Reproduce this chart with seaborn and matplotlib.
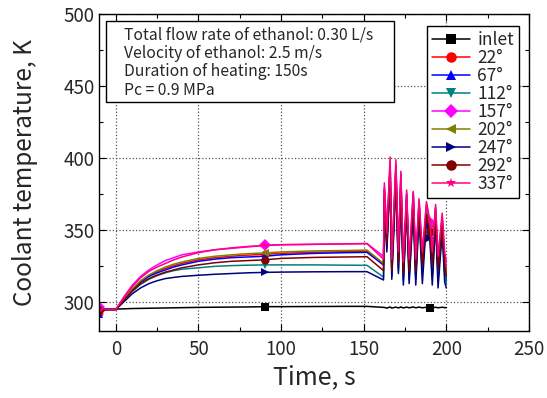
import pandas as pd
import matplotlib
matplotlib.use("Agg")
import matplotlib.pyplot as plt
import seaborn as sns
from matplotlib.patches import Rectangle
from matplotlib.ticker import MultipleLocator

sns.set_theme(style="ticks")
plt.rcParams['font.family'] = ['Noto Sans CJK JP', 'DejaVu Sans']

# --- data ---
time = [-10, -9, -8, -6, 0, 5, 10, 15, 20, 25, 30, 35, 40, 50, 60, 70, 80, 90, 100, 120, 140, 152, 162,
        162.5, 164, 166, 167, 169.5, 171, 172.5, 174, 176, 177.5, 180, 181.5, 183.5, 185.5, 188, 190,
        191.5, 193.5, 195, 197.5, 199, 200]

inlet = [295.5, 295.2, 295.4, 295.3, 295.3, 295.5, 295.7, 295.8, 295.9, 296.0, 296.1, 296.2, 296.3, 296.5,
         296.6, 296.7, 296.8, 297.0, 297.0, 297.1, 297.2, 297.2, 296.5,
         296.5, 296.0, 296.8, 296.0, 296.7, 296.1, 296.8, 296.1, 296.7, 296.2, 296.8, 296.2, 296.7, 296.2,
         296.6, 296.4, 296.2, 296.6, 296.2, 296.6, 296.3, 296.4]
a22 = [292.5, 295.0, 294.0, 295.0, 295.0, 302.0, 309.0, 314.5, 318.5, 321.5, 323.5, 325.5, 327.0, 329.5,
       331.0, 332.0, 332.8, 333.3, 334.0, 334.8, 335.2, 335.5, 326.0,
       378, 344, 395, 325, 393, 330, 385, 322, 374, 325, 372, 326, 368, 330, 365, 352, 330, 364, 327, 357, 330, 322]
a67 = [292.0, 294.0, 295.5, 295.0, 295.0, 302.0, 308.5, 314.0, 318.0, 320.5, 322.5, 324.5, 326.0, 328.5,
       330.0, 331.0, 331.5, 332.0, 333.0, 334.0, 334.5, 334.7, 326.0,
       379, 340, 396, 320, 394, 324, 389, 316, 375, 318, 376, 318, 370, 322, 366, 351, 320, 365, 318, 358, 322, 315]
a112 = [293.0, 295.5, 294.5, 295.0, 295.0, 301.5, 307.5, 312.5, 316.0, 318.5, 320.5, 322.0, 323.0, 324.0,
        325.0, 325.5, 325.8, 326.0, 326.0, 326.0, 325.8, 325.7, 317.5,
        372, 338, 388, 318, 386, 322, 379, 315, 368, 316, 366, 316, 362, 320, 359, 347, 318, 358, 316, 351, 320, 313]
a157 = [296.5, 293.5, 295.0, 295.0, 295.0, 304.0, 312.0, 318.0, 322.5, 326.0, 329.0, 331.0, 333.0, 335.0,
        336.5, 337.5, 338.5, 339.5, 340.0, 340.3, 340.6, 340.8, 332.0,
        380, 346, 398, 328, 396, 332, 388, 326, 376, 328, 375, 328, 370, 333, 368, 355, 333, 366, 330, 360, 332, 325]
a202 = [294.0, 295.0, 293.5, 295.0, 295.0, 302.5, 309.5, 315.0, 319.0, 322.0, 324.5, 326.5, 328.0, 330.5,
        332.0, 333.0, 333.8, 334.3, 335.0, 335.7, 336.0, 336.3, 327.0,
        376, 343, 393, 324, 390, 328, 383, 321, 372, 324, 370, 324, 366, 328, 363, 350, 328, 362, 325, 355, 328, 320]
a247 = [293.5, 292.5, 295.0, 295.0, 295.0, 300.5, 306.0, 310.0, 313.0, 315.0, 316.5, 317.3, 318.0, 318.8,
        319.5, 320.0, 320.5, 320.8, 321.0, 321.2, 321.3, 321.3, 315.5,
        370, 335, 386, 316, 384, 320, 377, 312, 366, 313, 364, 312, 360, 313, 357, 345, 312, 356, 310, 349, 314, 310]
a292 = [294.5, 295.5, 294.0, 295.0, 295.0, 301.5, 308.0, 313.0, 316.5, 319.0, 321.0, 322.5, 324.0, 326.0,
        327.5, 328.5, 329.0, 329.5, 330.5, 331.2, 331.5, 331.7, 322.0,
        374, 341, 390, 322, 388, 327, 381, 320, 370, 322, 368, 322, 364, 326, 361, 349, 326, 360, 323, 353, 326, 318]
a337 = [295.5, 294.0, 295.5, 295.0, 295.0, 303.5, 311.0, 317.0, 321.5, 324.5, 327.0, 329.5, 331.5, 334.5,
        336.5, 337.8, 338.8, 339.5, 340.0, 340.3, 340.6, 340.8, 330.0,
        383, 348, 401, 330, 399, 335, 391, 328, 378, 330, 377, 330, 372, 335, 370, 357, 335, 368, 332, 362, 335, 328]

labels = ['inlet', '22°', '67°', '112°', '157°', '202°', '247°', '292°', '337°']
series = [inlet, a22, a67, a112, a157, a202, a247, a292, a337]
colors = ['#000000', '#ff0000', '#0000ff', '#008080', '#ff00ff', '#808000', '#000080', '#800000', '#ff0080']
markers = ['s', 'o', '^', 'v', 'D', '<', '>', 'o', '*']
marker_times = [-10, 90, 190]

df = pd.DataFrame({'Time': time * len(labels),
                   'Temp': [v for s in series for v in s],
                   'Position': [lab for lab in labels for _ in time]})
mark_idx = [time.index(t) for t in marker_times]

fig, ax = plt.subplots(figsize=(5.47, 3.98), dpi=100)
fig.subplots_adjust(left=0.1815, right=0.967, bottom=0.168, top=0.964)

for lab, col, mk in zip(labels, colors, markers):
    sub = df[df['Position'] == lab]
    sns.lineplot(data=sub, x='Time', y='Temp', ax=ax, color=col, marker=mk, markevery=mark_idx,
                 markersize=5.8, markeredgewidth=0, linewidth=1.1, label=lab,
                 estimator=None, sort=False)

ax.set_xlim(-10, 250)
ax.set_ylim(280, 500)
ax.xaxis.set_major_locator(MultipleLocator(50))
ax.xaxis.set_minor_locator(MultipleLocator(25))
ax.yaxis.set_major_locator(MultipleLocator(50))
ax.yaxis.set_minor_locator(MultipleLocator(25))
ax.tick_params(which='both', direction='in', top=True, right=True, labelsize=13.5, color='black')
ax.tick_params(which='major', length=5, width=0.8)
ax.tick_params(which='minor', length=3, width=0.8)
ax.tick_params(axis='x', which='major', pad=6)
ax.grid(True, which='major', linestyle=':', color='#555555', linewidth=0.9)
for sp in ax.spines.values():
    sp.set_color('black')
    sp.set_linewidth(1.0)

ax.set_xlabel('Time, s', fontsize=18, labelpad=3)
ax.set_ylabel('Coolant temperature, K', fontsize=17.5, labelpad=18)

leg = ax.legend(loc='upper right', bbox_to_anchor=(0.977, 0.964), borderaxespad=0, fontsize=12.5,
                fancybox=False, edgecolor='black', framealpha=1, labelspacing=0.0, handlelength=2.2,
                handletextpad=0.4, borderpad=0.3, markerscale=1.3)
leg.get_frame().set_linewidth(1.0)

ax.add_patch(Rectangle((0.015, 0.723), 0.672, 0.257, transform=ax.transAxes, facecolor='white',
                       edgecolor='black', linewidth=1.0, zorder=5))
notes = ['Total flow rate of ethanol: 0.30 L/s', 'Velocity of ethanol: 2.5 m/s',
         'Duration of heating: 150s', 'Pc = 0.9 MPa']
for i, line in enumerate(notes):
    ax.text(0.058, 0.935 - i * 0.058, line, transform=ax.transAxes, fontsize=11.3,
            va='center', ha='left', zorder=6)

fig.savefig('out.png', dpi=100)
